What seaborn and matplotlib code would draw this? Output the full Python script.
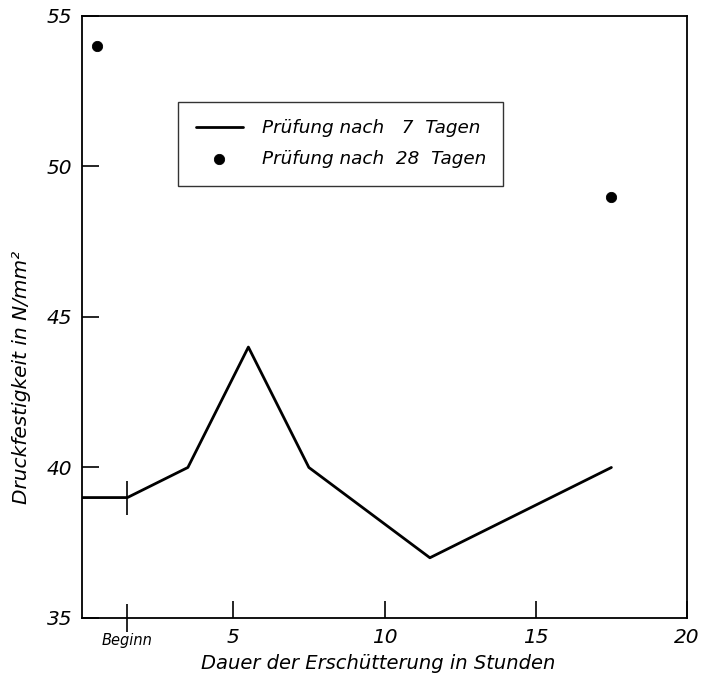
import matplotlib
matplotlib.use("Agg")
import matplotlib.pyplot as plt
import matplotlib.transforms as mtransforms
import seaborn as sns
import pandas as pd

# Druckfestigkeit nach 7 Tagen (Linie) und nach 28 Tagen (Punkte)
hours_7 = [0.0, 1.5, 3.5, 5.5, 7.5, 11.5, 17.5]
strength_7 = [39.0, 39.0, 40.0, 44.0, 40.0, 37.0, 40.0]
hours_28 = [0.5, 17.5]
strength_28 = [54.0, 49.0]
beginn_x = 1.5
beginn_y = 39.0
x_ticks = [1.5, 5, 10, 15, 20]
x_ticklabels = ["Beginn", "5", "10", "15", "20"]
y_ticks = [35, 40, 45, 50, 55]

sns.set_theme(style="ticks")
plt.rcParams["font.family"] = ["DejaVu Sans"]
plt.rcParams["font.style"] = "italic"
plt.rcParams["text.color"] = "black"
plt.rcParams["axes.labelcolor"] = "black"
plt.rcParams["xtick.color"] = "black"
plt.rcParams["ytick.color"] = "black"

df7 = pd.DataFrame({"x": hours_7, "y": strength_7})
df28 = pd.DataFrame({"x": hours_28, "y": strength_28})

fig = plt.figure(figsize=(7.05, 6.77), dpi=100)
ax = fig.add_axes([0.1163, 0.0872, 0.8582, 0.8892])

sns.lineplot(data=df7, x="x", y="y", ax=ax, color="black", linewidth=2.0,
             label="Prüfung nach   7  Tagen", sort=False, estimator=None)
sns.scatterplot(data=df28, x="x", y="y", ax=ax, color="black", s=55,
                label="Prüfung nach  28  Tagen", edgecolor="black")
# Markierung "Beginn" auf der Kurve
ax.plot([beginn_x], [beginn_y], marker="|", color="black", ms=24, mew=1.2)

ax.set_xlim(0, 20)
ax.set_ylim(35, 55)
ax.set_xticks(x_ticks)
ax.set_xticklabels(x_ticklabels)
ax.set_yticks(y_ticks)

ax.tick_params(axis="both", direction="in", length=12, width=1.2, color="black",
               pad=7, labelsize=14.5, labelcolor="black")
ticks = ax.xaxis.get_major_ticks()
ticks[0].tick1line.set_marker("|")
ticks[0].tick1line.set_markersize(20)
for lab in ax.get_xticklabels() + ax.get_yticklabels():
    lab.set_fontstyle("italic")
beg = ticks[0].label1
beg.set_fontsize(10.5)
beg.set_transform(beg.get_transform() +
                  mtransforms.ScaledTranslation(0, -4 / 72, fig.dpi_scale_trans))

for sp in ax.spines.values():
    sp.set_visible(True)
    sp.set_color("black")
    sp.set_linewidth(1.3)

ax.set_xlabel("Dauer der Erschütterung in Stunden", fontsize=14, fontstyle="italic")
ax.set_ylabel("Druckfestigkeit in N/mm²", fontsize=14.5, fontstyle="italic")
ax.xaxis.set_label_coords(0.49, -0.06)
ax.yaxis.set_label_coords(-0.085, 0.40)

leg = ax.legend(loc="upper left", bbox_to_anchor=(0.159, 0.857), frameon=True,
                fancybox=False, edgecolor="black", handlelength=2.6,
                borderpad=0.95, labelspacing=0.7, handletextpad=1.0,
                borderaxespad=0, prop={"style": "italic", "size": 13.2})
leg.get_frame().set_linewidth(1.0)
for t in leg.get_texts():
    t.set_color("black")

fig.savefig("out.png", dpi=100, facecolor="white")
